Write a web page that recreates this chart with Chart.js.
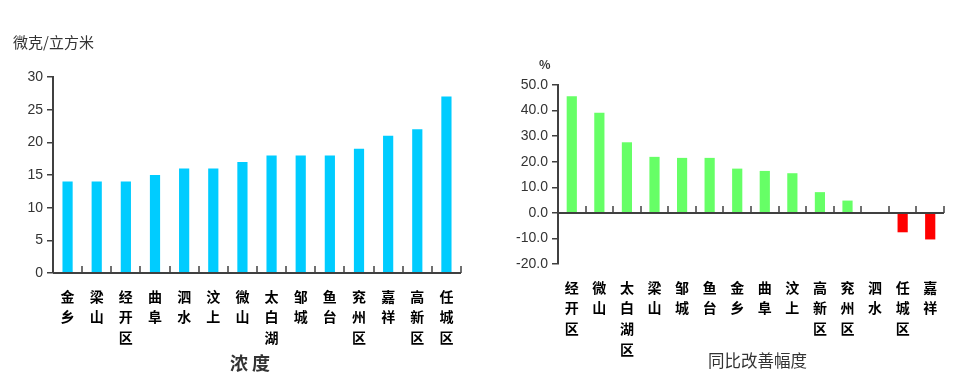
<!DOCTYPE html>
<html>
<head>
<meta charset="utf-8">
<script src="https://cdn.jsdelivr.net/npm/chart.js@4.4.1/dist/chart.umd.min.js"></script>
<style>
  body { margin: 0; background: #fff; width: 979px; height: 390px; overflow: hidden; position: relative; }
  canvas { position: absolute; top: 0; }
  .txt { position: absolute; color: #333; font-family: "Noto Sans CJK SC", sans-serif; white-space: nowrap; }
</style>
</head>
<body>
<canvas id="left" width="490" height="390" style="left:0"></canvas>
<canvas id="right" width="489" height="390" style="left:490px"></canvas>
<div class="txt" style="left:13px;top:31px;font-size:15px;">微克/立方米</div>
<div class="txt" style="left:539px;top:55px;font-size:12px;font-weight:bold;">%</div>
<div class="txt" style="left:230px;top:349px;font-size:18px;font-weight:bold;">浓 度</div>
<div class="txt" style="left:708px;top:348px;font-size:16.5px;">同比改善幅度</div>
<script>
// 浓度（微克/立方米）
const catsL = ['金乡', '梁山', '经开区', '曲阜', '泗水', '汶上', '微山', '太白湖', '邹城', '鱼台', '兖州区', '嘉祥', '高新区', '任城区'];
const valsL = [14, 14, 14, 15, 16, 16, 17, 18, 18, 18, 19, 21, 22, 27];

// 同比改善幅度（%）
const catsR = ['经开区', '微山', '太白湖区', '梁山', '邹城', '鱼台', '金乡', '曲阜', '汶上', '高新区', '兖州区', '泗水', '任城区', '嘉祥'];
const valsR = [45.6, 39.1, 27.6, 21.9, 21.5, 21.5, 17.3, 16.4, 15.5, 8.1, 4.8, 0, -7.6, -10.4];

const axisColor = '#404040';
const numFont = { family: '"Liberation Sans Narrow", "Liberation Sans", Arial', size: 14 };

// x axis line at zero with small inward ticks between categories
const zeroAxis = {
    id: 'zeroAxis',
    afterDatasetsDraw(chart) {
        const { ctx, chartArea, scales: { x, y } } = chart;
        const y0 = Math.round(y.getPixelForValue(0));
        ctx.save();
        ctx.strokeStyle = axisColor;
        ctx.lineWidth = 2;
        ctx.beginPath();
        ctx.moveTo(chartArea.left, y0);
        ctx.lineTo(chartArea.right, y0);
        ctx.stroke();
        ctx.lineWidth = 1.5;
        for (let i = 1; i <= chart.data.labels.length; i++) {
            const px = Math.round(x.getPixelForValue(i - 0.5));
            ctx.beginPath();
            ctx.moveTo(px, y0);
            ctx.lineTo(px, y0 - 7);
            ctx.stroke();
        }
        ctx.restore();
    }
};

function makeChart(id, cats, vals, colors, yMin, yMax, step, fmt, pad, xHeight, yWidth, barPct) {
    return new Chart(document.getElementById(id).getContext('2d'), {
        type: 'bar',
        data: {
            labels: cats,
            datasets: [{
                data: vals,
                backgroundColor: colors,
                borderWidth: 0,
                barPercentage: barPct,
                categoryPercentage: 1
            }]
        },
        options: {
            responsive: false,
            animation: false,
            layout: { padding: pad },
            plugins: { legend: { display: false }, tooltip: { enabled: false } },
            scales: {
                x: {
                    grid: { display: false, drawTicks: false },
                    border: { display: false },
                    ticks: {
                        autoSkip: false,
                        maxRotation: 0,
                        padding: 13,
                        color: '#000',
                        font: { family: '"Noto Sans CJK SC", sans-serif', size: 14, weight: 'bold', lineHeight: 1.48 },
                        callback: (v, i) => cats[i].split('')
                    },
                    afterFit: s => { s.height = xHeight; }
                },
                y: {
                    min: yMin,
                    max: yMax,
                    ticks: { stepSize: step, color: '#333', font: numFont, padding: 4, callback: fmt },
                    grid: { drawOnChartArea: false, drawTicks: true, tickLength: 6, color: axisColor, lineWidth: 1.5 },
                    border: { display: true, color: axisColor, width: 2 },
                    afterFit: s => { s.width = yWidth; }
                }
            }
        },
        plugins: [zeroAxis]
    });
}

makeChart('left', catsL, valsL, '#00CCFF', 0, 30, 5, v => v,
    { left: 0, top: 77, right: 29, bottom: 0 }, 117, 53, 0.35);

makeChart('right', catsR, valsR, valsR.map(v => v < 0 ? '#FF0000' : '#66FF66'), -20, 50, 10, v => v.toFixed(1),
    { left: 0, top: 85, right: 35, bottom: 0 }, 126, 68, 0.37);
</script>
</body>
</html>
